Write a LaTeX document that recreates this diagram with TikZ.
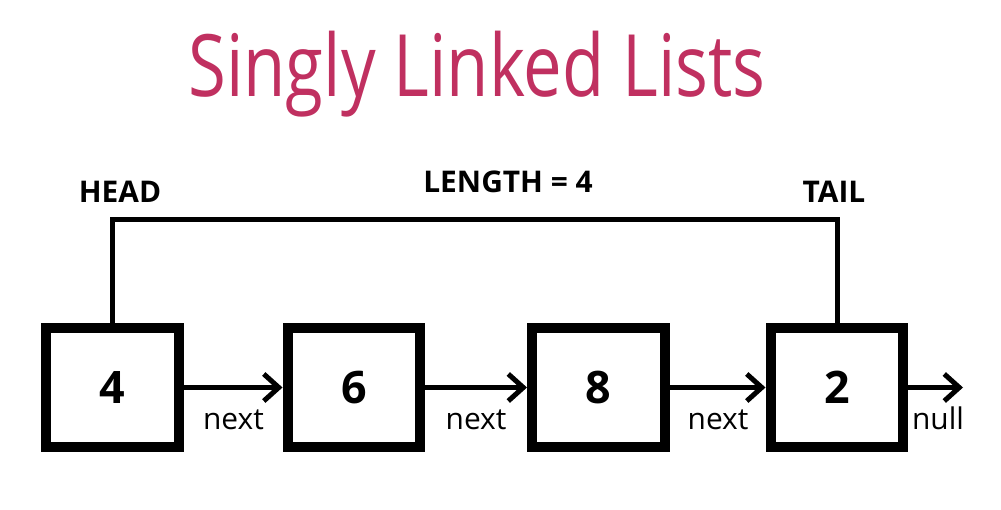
\documentclass[tikz,border=0pt]{standalone}
\usepackage{fontspec}
\setmainfont{Open Sans}
\newfontfamily\titlefont[FakeStretch=0.8]{Open Sans}
\definecolor{titlered}{RGB}{192,48,96}
\usetikzlibrary{arrows.meta,positioning}

\begin{document}
\begin{tikzpicture}[
  x=0.02cm,y=-0.02cm,
  listnode/.style={draw,line width=0.2cm,minimum width=2.66cm,minimum height=2.38cm,
                   inner sep=0pt,font=\fontsize{25.5}{30}\selectfont\bfseries},
  ptrlabel/.style={anchor=base,font=\fontsize{17}{20}\selectfont\bfseries},
  nextlabel/.style={anchor=base,font=\fontsize{17}{20}\selectfont},
  arr/.style={-{Straight Barb[length=0.3cm,width=0.54cm]},line width=0.1cm},
  link/.style={line width=0.1cm},
]
  \useasboundingbox (0,0) rectangle (1001,510);

  % Title
  \node[anchor=base,text=titlered,font=\titlefont\fontsize{49}{58}\selectfont] (title) at (477,97) {Singly Linked Lists};

  % Pointer labels
  \node[ptrlabel] (head) at (120,202) {HEAD};
  \node[ptrlabel] (tail) at (834,202) {TAIL};
  \node[ptrlabel] (len) at (508,193) {LENGTH = 4};

  % List nodes
  \node[listnode] (n1) at (112.5,387.5) {4};
  \node[listnode] (n2) at (354,387.5) {6};
  \node[listnode] (n3) at (598.5,387.5) {8};
  \node[listnode] (n4) at (837,387.5) {2};

  % Head / tail bracket
  \coordinate (top) at (476,219);
  \draw[link] (n1.north) |- (top) -| (n4.north);

  % Next pointers
  \draw[arr] (n1) -- (n2);
  \draw[arr] (n2) -- (n3);
  \draw[arr] (n3) -- (n4);
  \coordinate (nullend) at (963,387.5);
  \draw[arr] (n4.east) -- (nullend);

  \node[nextlabel] (next1) at (233.5,429) {next};
  \node[nextlabel] (next2) at (476,429) {next};
  \node[nextlabel] (next3) at (718,429) {next};
  \node[nextlabel] (nulltxt) at (938,429) {null};
\end{tikzpicture}
\end{document}
